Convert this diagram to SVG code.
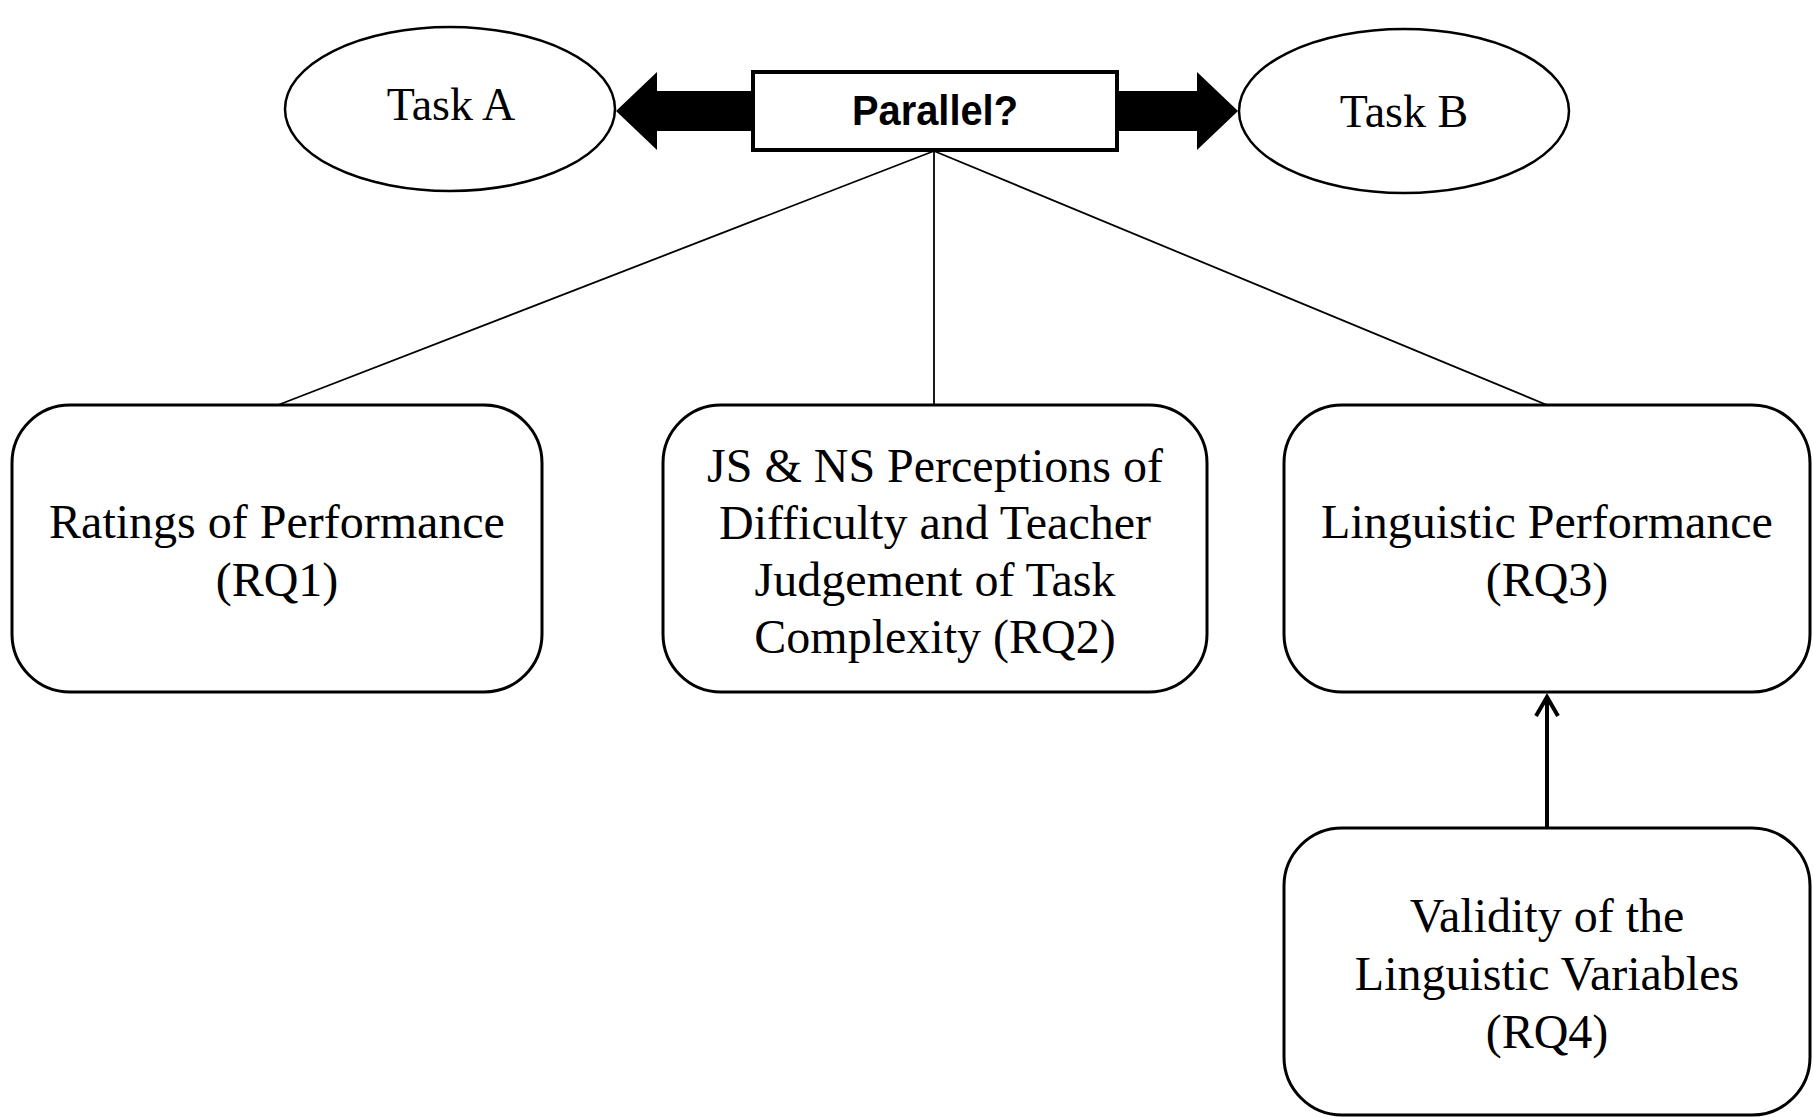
<svg xmlns="http://www.w3.org/2000/svg" width="1813" height="1117" viewBox="0 0 1813 1117">
  <style>
    .serif { font-family: "Liberation Serif", "Times New Roman", serif; font-size: 48px; fill: #000; text-anchor: middle; }
    .task { font-size: 46px; }
    .box { fill: #fff; stroke: #000; stroke-width: 3; }
    .oval { fill: #fff; stroke: #000; stroke-width: 2.5; }
    .link { stroke: #000; stroke-width: 1.8; fill: none; }
    .heavy { fill: #000; stroke: none; }
  </style>

  <rect width="1813" height="1117" fill="#fff"/>

  <g id="connectors">
    <!-- fan-out from the Parallel? box -->
    <line class="link" x1="934" y1="151" x2="278" y2="405"/>
    <line class="link" x1="934" y1="151" x2="934" y2="405"/>
    <line class="link" x1="934" y1="151" x2="1547" y2="405"/>
    <!-- block arrows toward the two tasks -->
    <polygon class="heavy" points="753,91 657,91 657,72 616,111 657,150 657,131 753,131"/>
    <polygon class="heavy" points="1117,91 1197,91 1197,72 1238,111 1197,150 1197,131 1117,131"/>
    <!-- RQ4 feeds RQ3 -->
    <line x1="1547" y1="828" x2="1547" y2="697" stroke="#000" stroke-width="4"/>
    <polyline points="1536,716 1547,697 1558,716" fill="none" stroke="#000" stroke-width="4" stroke-linejoin="miter"/>
  </g>

  <g id="task-a">
    <ellipse class="oval" cx="450" cy="109" rx="165" ry="82"/>
    <text class="serif task" x="451" y="120">Task A</text>
  </g>

  <g id="task-b">
    <ellipse class="oval" cx="1404" cy="111" rx="165" ry="82"/>
    <text class="serif task" x="1404" y="127">Task B</text>
  </g>

  <g id="parallel">
    <rect x="753" y="72" width="364" height="78" fill="#fff" stroke="#000" stroke-width="4"/>
    <text x="935" y="125" font-family="'Liberation Sans', Arial, sans-serif" font-weight="bold" font-size="42" text-anchor="middle" textLength="166" lengthAdjust="spacingAndGlyphs">Parallel?</text>
  </g>

  <g id="rq1">
    <rect class="box" x="12" y="405" width="530" height="287" rx="58" ry="58"/>
    <text class="serif" x="277" y="538">Ratings of Performance</text>
    <text class="serif" x="277" y="596">(RQ1)</text>
  </g>

  <g id="rq2">
    <rect class="box" x="663" y="405" width="544" height="287" rx="58" ry="58"/>
    <text class="serif" x="935" y="482">JS &amp; NS Perceptions of</text>
    <text class="serif" x="935" y="539">Difficulty and Teacher</text>
    <text class="serif" x="935" y="596">Judgement of Task</text>
    <text class="serif" x="935" y="653">Complexity (RQ2)</text>
  </g>

  <g id="rq3">
    <rect class="box" x="1284" y="405" width="526" height="287" rx="58" ry="58"/>
    <text class="serif" x="1547" y="538">Linguistic Performance</text>
    <text class="serif" x="1547" y="596">(RQ3)</text>
  </g>

  <g id="rq4">
    <rect class="box" x="1284" y="828" width="526" height="287" rx="58" ry="58"/>
    <text class="serif" x="1547" y="932">Validity of the</text>
    <text class="serif" x="1547" y="990">Linguistic Variables</text>
    <text class="serif" x="1547" y="1048">(RQ4)</text>
  </g>
</svg>
